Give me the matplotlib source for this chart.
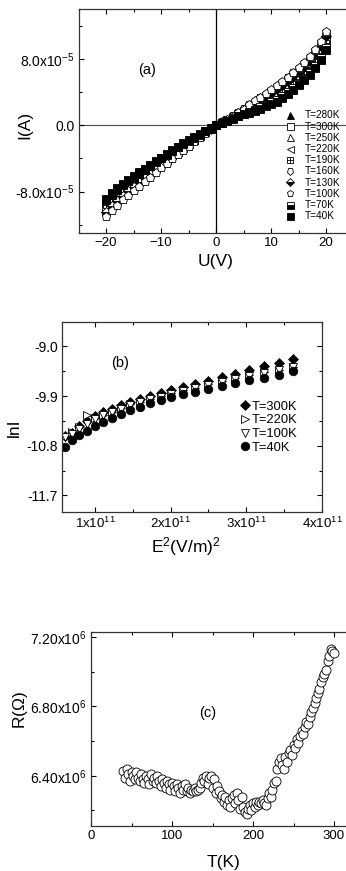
import numpy as np
import matplotlib
matplotlib.use("Agg")
import matplotlib.pyplot as plt
from matplotlib.markers import MarkerStyle
from matplotlib.path import Path
from matplotlib.transforms import Affine2D
from matplotlib.ticker import FixedLocator, MultipleLocator

plt.rcParams["font.family"] = ["Liberation Sans", "DejaVu Sans"]
plt.rcParams["mathtext.fontset"] = "custom"
plt.rcParams["mathtext.rm"] = "Liberation Sans"
plt.rcParams["mathtext.it"] = "Liberation Sans:italic"
plt.rcParams["mathtext.bf"] = "Liberation Sans:bold"

# ---- (a) I-V curves, current in 1e-5 A, U from -20 to 20 V
U = np.arange(-20, 21)
I_280 = [-9.38, -8.7, -8.1, -7.53, -7.05, -6.58, -6.1, -5.63, -5.15, -4.68, -4.2, -3.73, -3.25, -2.83, -2.4, -1.98, -1.58, -1.18, -0.75, -0.38, 0.0,
         0.28, 0.55, 0.88, 1.18, 1.48, 1.75, 2.05, 2.35, 2.65, 3.0, 3.35, 3.8, 4.28, 4.8, 5.35, 5.95, 6.63, 7.43, 8.43, 9.63]
I_300 = [-10.01, -9.3, -8.7, -8.1, -7.59, -7.09, -6.58, -6.08, -5.57, -5.07, -4.56, -4.06, -3.55, -3.1, -2.64, -2.19, -1.73, -1.27, -0.81, -0.41, 0.0,
         0.3, 0.61, 0.97, 1.33, 1.69, 2.05, 2.41, 2.77, 3.13, 3.54, 3.95, 4.4, 4.91, 5.46, 6.01, 6.61, 7.32, 8.12, 9.12, 10.32]
I_250 = [-10.22, -9.5, -8.9, -8.29, -7.77, -7.26, -6.74, -6.23, -5.71, -5.2, -4.68, -4.17, -3.65, -3.19, -2.72, -2.26, -1.78, -1.3, -0.83, -0.42, 0.0,
         0.32, 0.63, 1.0, 1.38, 1.76, 2.15, 2.53, 2.91, 3.29, 3.72, 4.15, 4.6, 5.12, 5.68, 6.23, 6.83, 7.55, 8.35, 9.35, 10.55]
I_220 = [-9.8, -9.1, -8.5, -7.91, -7.41, -6.92, -6.42, -5.93, -5.43, -4.94, -4.44, -3.95, -3.45, -3.01, -2.56, -2.12, -1.68, -1.24, -0.79, -0.4, 0.0,
         0.3, 0.59, 0.94, 1.28, 1.62, 1.95, 2.29, 2.63, 2.97, 3.36, 3.75, 4.2, 4.7, 5.24, 5.79, 6.39, 7.09, 7.89, 8.89, 10.09]
I_190 = [-9.59, -8.9, -8.3, -7.72, -7.23, -6.75, -6.26, -5.78, -5.29, -4.81, -4.32, -3.84, -3.35, -2.92, -2.48, -2.05, -1.63, -1.21, -0.77, -0.39, 0.0,
         0.29, 0.57, 0.91, 1.23, 1.55, 1.85, 2.17, 2.49, 2.81, 3.18, 3.55, 4.0, 4.49, 5.02, 5.57, 6.17, 6.86, 7.66, 8.66, 9.86]
I_160 = [-10.74, -10.0, -9.4, -8.76, -8.22, -7.68, -7.14, -6.6, -6.06, -5.52, -4.98, -4.44, -3.9, -3.41, -2.92, -2.43, -1.9, -1.37, -0.88, -0.44, 0.0,
         0.34, 0.68, 1.07, 1.5, 1.93, 2.4, 2.83, 3.26, 3.69, 4.17, 4.65, 5.1, 5.64, 6.23, 6.78, 7.38, 8.12, 8.92, 9.92, 11.12]
I_130 = [-10.43, -9.7, -9.1, -8.48, -7.95, -7.43, -6.9, -6.38, -5.85, -5.33, -4.8, -4.28, -3.75, -3.28, -2.8, -2.33, -1.83, -1.33, -0.85, -0.43, 0.0,
         0.33, 0.65, 1.03, 1.43, 1.83, 2.25, 2.65, 3.05, 3.45, 3.9, 4.35, 4.8, 5.33, 5.9, 6.45, 7.05, 7.78, 8.58, 9.58, 10.78]
I_100 = [-10.95, -10.2, -9.6, -8.95, -8.4, -7.85, -7.3, -6.75, -6.2, -5.65, -5.1, -4.55, -4.0, -3.5, -3.0, -2.5, -1.95, -1.4, -0.9, -0.45, 0.0,
         0.35, 0.7, 1.1, 1.55, 2.0, 2.5, 3.0, 3.4, 3.85, 4.35, 4.85, 5.3, 5.85, 6.45, 7.0, 7.6, 8.35, 9.15, 10.15, 11.35]
I_70 = [-9.06, -8.4, -7.8, -7.24, -6.78, -6.32, -5.86, -5.4, -4.94, -4.48, -4.02, -3.56, -3.1, -2.69, -2.28, -1.87, -1.5, -1.13, -0.72, -0.36, 0.0,
        0.26, 0.52, 0.83, 1.1, 1.37, 1.6, 1.87, 2.14, 2.41, 2.73, 3.05, 3.5, 3.96, 4.47, 5.02, 5.62, 6.28, 7.08, 8.08, 9.28]
I_40 = [-8.85, -8.2, -7.6, -7.05, -6.6, -6.15, -5.7, -5.25, -4.8, -4.35, -3.9, -3.45, -3.0, -2.6, -2.2, -1.8, -1.45, -1.1, -0.7, -0.35, 0.0,
        0.25, 0.5, 0.8, 1.05, 1.3, 1.5, 1.75, 2.0, 2.25, 2.55, 2.85, 3.3, 3.75, 4.25, 4.8, 5.4, 6.05, 6.85, 7.85, 9.05]
labels_a = ["T=280K", "T=300K", "T=250K", "T=220K", "T=190K", "T=160K", "T=130K", "T=100K", "T=70K", "T=40K"]
yticks_a = [-8e-5, 0.0, 8e-5]
yticklabels_a = [r"-8.0x10$^{-5}$", "0.0", r"8.0x10$^{-5}$"]

# ---- (b) lnI vs E^2, E^2 in 1e11 (V/m)^2
E2 = [0.60, 0.69, 0.79, 0.90, 1.00, 1.11, 1.22, 1.34, 1.46, 1.60, 1.73, 1.87, 2.00, 2.16, 2.32, 2.50, 2.68, 2.85, 3.03, 3.23, 3.43, 3.62]
lnI_300 = [-10.63, -10.57, -10.45, -10.36, -10.26, -10.19, -10.13, -10.07, -10.00, -9.95, -9.90, -9.85, -9.79, -9.73, -9.68, -9.62, -9.56, -9.50, -9.42, -9.36, -9.30, -9.23]
lnI_220 = [-10.62, -10.56, -10.47, -10.24, -10.30, -10.24, -10.19, -10.12, -10.05, -10.00, -9.95, -9.90, -9.85, -9.80, -9.75, -9.69, -9.63, -9.58, -9.52, -9.47, -9.42, -9.37]
lnI_100 = [-10.64, -10.58, -10.49, -10.40, -10.31, -10.25, -10.19, -10.13, -10.06, -10.01, -9.96, -9.91, -9.86, -9.81, -9.76, -9.70, -9.65, -9.59, -9.54, -9.48, -9.43, -9.38]
lnI_40 = [-10.82, -10.70, -10.61, -10.53, -10.45, -10.37, -10.30, -10.22, -10.16, -10.09, -10.03, -9.97, -9.92, -9.87, -9.82, -9.77, -9.72, -9.67, -9.61, -9.57, -9.52, -9.44]
labels_b = ["T=300K", "T=220K", "T=100K", "T=40K"]
xticks_b = [1e11, 2e11, 3e11, 4e11]
xticklabels_b = [r"1x10$^{11}$", r"2x10$^{11}$", r"3x10$^{11}$", r"4x10$^{11}$"]
yticks_b = [-11.7, -10.8, -9.9, -9.0]

# ---- (c) R(T), R in 1e6 ohm
T = [40, 42, 44, 46, 48, 50, 52, 54, 56, 58, 60, 62, 64, 66, 68, 70, 72, 74, 76, 78, 80, 82, 84, 86, 88, 90,
     92, 94, 96, 98, 100, 102, 104, 106, 108, 110, 112, 114, 116, 118, 120, 122, 124, 126, 128, 130, 132, 134,
     136, 138, 140, 142, 144, 146, 148, 150, 152, 154, 156, 158, 160, 162, 164, 166, 168, 170, 172, 174, 176,
     178, 180, 182, 184, 186, 188, 190, 192, 194, 196, 198, 200, 202, 204, 206, 208, 210, 212, 214, 216, 218,
     220, 222, 224, 226, 228, 230, 232, 234, 236, 238, 240, 242, 244, 246, 248, 250, 252, 254, 256, 258, 260,
     262, 264, 266, 268, 270, 272, 274, 276, 278, 280, 282, 284, 286, 288, 290, 292, 294, 296, 298, 300]
R = [6.43, 6.39, 6.44, 6.41, 6.37, 6.42, 6.40, 6.38, 6.42, 6.39, 6.37, 6.41, 6.38, 6.36, 6.40, 6.38, 6.35, 6.41,
     6.37, 6.39, 6.36, 6.40, 6.37, 6.34, 6.38, 6.36, 6.33, 6.37, 6.35, 6.32, 6.36, 6.34, 6.31, 6.35, 6.33, 6.30,
     6.34, 6.32, 6.35, 6.31, 6.33, 6.30, 6.32, 6.31, 6.33, 6.31, 6.32, 6.33, 6.36, 6.39, 6.37, 6.40, 6.35, 6.39,
     6.40, 6.33, 6.38, 6.30, 6.34, 6.31, 6.27, 6.29, 6.25, 6.28, 6.23, 6.26, 6.22, 6.27, 6.29, 6.24, 6.30, 6.26,
     6.21, 6.28, 6.22, 6.19, 6.18, 6.21, 6.23, 6.20, 6.24, 6.22, 6.25, 6.23, 6.25, 6.24, 6.26, 6.24, 6.23, 6.27,
     6.30, 6.28, 6.32, 6.36, 6.37, 6.44, 6.48, 6.50, 6.46, 6.44, 6.51, 6.48, 6.53, 6.55, 6.52, 6.58, 6.56, 6.61,
     6.59, 6.63, 6.66, 6.64, 6.68, 6.71, 6.70, 6.74, 6.77, 6.79, 6.82, 6.85, 6.88, 6.90, 6.94, 6.97, 6.99, 7.01,
     7.06, 7.09, 7.13, 7.12, 7.11]
yticks_c = [6.4e6, 6.8e6, 7.2e6]
yticklabels_c = [r"6.40x10$^6$", r"6.80x10$^6$", r"7.20x10$^6$"]

W, H = 346, 871
fig = plt.figure(figsize=(W / 100, H / 100), dpi=100)


def px_axes(left, top, right, bottom):
    return fig.add_axes([left / W, 1 - bottom / H, (right - left) / W, (bottom - top) / H])


def style(ax, right=True):
    for s in ax.spines.values():
        s.set_linewidth(0.9)
        s.set_color("0.2")
    ax.tick_params(which="both", direction="in", top=True, right=right, width=0.8, pad=3)
    ax.tick_params(axis="x", labelsize=9.5)
    ax.tick_params(axis="y", labelsize=10)
    ax.tick_params(which="major", length=3.5)
    ax.tick_params(which="minor", length=2)


# square with a plus inside
sq_plus = Path([(-1, -1), (1, -1), (1, 1), (-1, 1), (-1, -1), (0, -1), (0, 1), (-1, 0), (1, 0)],
               [Path.MOVETO, Path.LINETO, Path.LINETO, Path.LINETO, Path.CLOSEPOLY,
                Path.MOVETO, Path.LINETO, Path.MOVETO, Path.LINETO])
pent_down = MarkerStyle("p", transform=Affine2D().rotate_deg(180))

# ---------------- panel (a)
ax = px_axes(78.5, 9, 353.5, 233)
style(ax, right=False)
ax.axhline(0, color="0.3", lw=0.8, zorder=1)
ax.axvline(0, color="black", lw=0.9, zorder=1)
series_a = [I_280, I_300, I_250, I_220, I_190, I_160, I_130, I_100, I_70, I_40]
styles_a = [
    dict(marker="^", mfc="black"),
    dict(marker="s", mfc="white"),
    dict(marker="^", mfc="white"),
    dict(marker="<", mfc="white"),
    dict(marker=sq_plus, mfc="white", ms=5.0),
    dict(marker=pent_down, mfc="white"),
    dict(marker="D", mfc="black", fillstyle="bottom", markerfacecoloralt="white", ms=5.2),
    dict(marker="p", mfc="white"),
    dict(marker="s", mfc="black", fillstyle="bottom", markerfacecoloralt="white"),
    dict(marker="s", mfc="black"),
]
for vals, lab, st in zip(series_a, labels_a, styles_a):
    kw = dict(ms=6.3, mec="black", mew=0.6, ls="none")
    kw.update(st)
    ax.plot(U, np.array(vals) * 1e-5, label=lab, zorder=2, **kw)
ax.set_xlim(-25, 25)
ax.set_ylim(-1.3e-4, 1.4e-4)
ax.xaxis.set_major_locator(MultipleLocator(10))
ax.xaxis.set_minor_locator(MultipleLocator(5))
ax.yaxis.set_major_locator(FixedLocator(yticks_a))
ax.yaxis.set_minor_locator(MultipleLocator(4e-5))
ax.set_yticklabels(yticklabels_a)
ax.set_xlabel("U(V)", fontsize=12.5)
ax.set_ylabel("I(A)", fontsize=12.5)
ax.xaxis.set_label_coords(0.5, -0.094)
ax.yaxis.set_label_coords(-0.169, 0.482)
ax.text(0.249, 0.728, "(a)", transform=ax.transAxes, ha="center", va="center", fontsize=10.5)
ax.legend(loc="upper left", bbox_to_anchor=(0.751, 0.547), frameon=False, fontsize=7.2, markerscale=0.8,
          borderpad=0, borderaxespad=0, handlelength=1.0, handletextpad=1.0, labelspacing=0.12)

# ---------------- panel (b)
ax = px_axes(62, 322, 322, 512)
style(ax)
E2v = np.array(E2) * 1e11
ax.plot(E2v, lnI_300, ls="none", marker="D", ms=5.2, mfc="black", mec="black", mew=0.5, label=labels_b[0])
ax.plot(E2v, lnI_220, ls="none", marker=">", ms=6.2, mfc="white", mec="black", mew=0.6, label=labels_b[1])
ax.plot(E2v, lnI_100, ls="none", marker="v", ms=6.2, mfc="white", mec="black", mew=0.6, label=labels_b[2])
ax.plot(E2v, lnI_40, ls="none", marker="o", ms=6.2, mfc="black", mec="black", mew=0.5, label=labels_b[3])
ax.set_xlim(0.564e11, 4e11)
ax.set_ylim(-12.0, -8.56)
ax.xaxis.set_major_locator(FixedLocator(xticks_b))
ax.set_xticklabels(xticklabels_b)
ax.xaxis.set_minor_locator(MultipleLocator(0.5e11))
ax.yaxis.set_major_locator(FixedLocator(yticks_b))
ax.yaxis.set_minor_locator(MultipleLocator(0.45))
ax.set_yticklabels([f"{v:.1f}" for v in yticks_b])
ax.set_xlabel(r"E$^2$(V/m)$^2$", fontsize=12.5)
ax.set_ylabel("lnI", fontsize=12.5)
ax.xaxis.set_label_coords(0.475, -0.12)
ax.yaxis.set_label_coords(-0.154, 0.442)
ax.text(0.223, 0.784, "(b)", transform=ax.transAxes, ha="center", va="center", fontsize=10.5)
ax.legend(loc="upper left", bbox_to_anchor=(0.68, 0.585), frameon=False, fontsize=9.3,
          borderpad=0, borderaxespad=0, handlelength=1.0, handletextpad=0.0, labelspacing=0.12)

# ---------------- panel (c)
ax = px_axes(91, 632, 350.2, 826)
style(ax, right=False)
ax.plot(T, np.array(R) * 1e6, ls="none", marker="o", ms=6.5, mfc="white", mec="black", mew=0.6)
ax.set_xlim(0, 320)
ax.set_ylim(6.11e6, 7.23e6)
ax.xaxis.set_major_locator(MultipleLocator(100))
ax.xaxis.set_minor_locator(MultipleLocator(50))
ax.yaxis.set_major_locator(FixedLocator(yticks_c))
ax.yaxis.set_minor_locator(MultipleLocator(0.2e6))
ax.set_yticklabels(yticklabels_c)
ax.set_xlabel("T(K)", fontsize=12.5)
ax.set_ylabel(r"R($\Omega$)", fontsize=12.5)
ax.xaxis.set_label_coords(0.513, -0.149)
ax.yaxis.set_label_coords(-0.236, 0.598)
ax.text(0.451, 0.582, "(c)", transform=ax.transAxes, ha="center", va="center", fontsize=10.5)

fig.savefig("out.png", dpi=100)
